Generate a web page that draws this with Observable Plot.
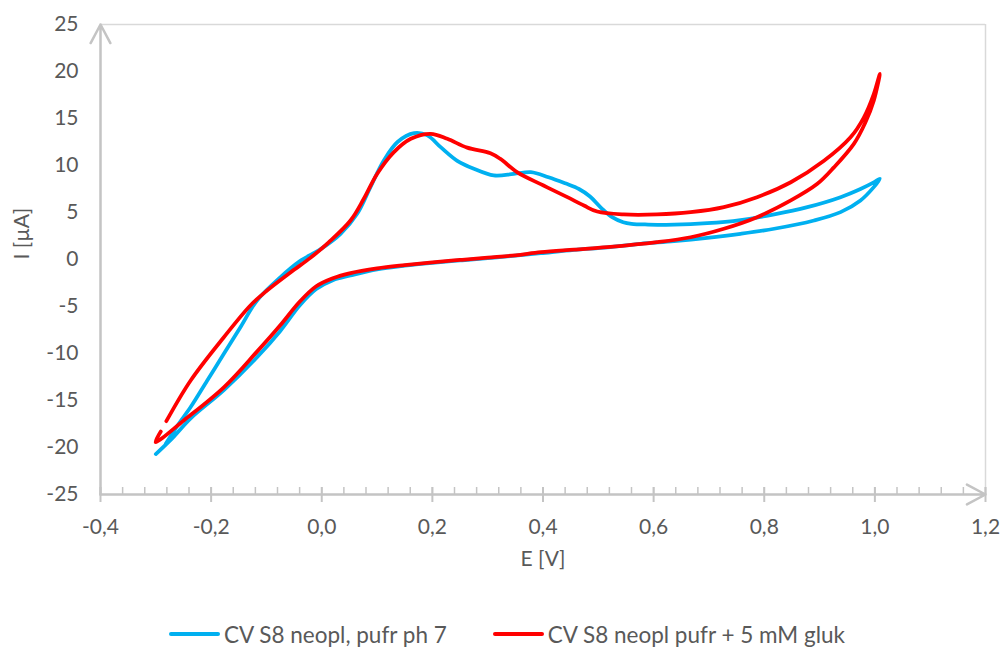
<!DOCTYPE html>
<html>
<head>
<meta charset="utf-8">
<script src="https://cdn.jsdelivr.net/npm/d3@7"></script>
<script src="https://cdn.jsdelivr.net/npm/@observablehq/plot@0.6"></script>
<style>
  body { margin: 0; background: #fff; font-family: Lato, "Open Sans", sans-serif; }
  #chart svg { display: block; }
  .legend { display: flex; justify-content: center; align-items: center; gap: 46px;
            padding-top: 20px; padding-left: 10px; height: 28px; font-size: 22.5px; color: #595959; }
  .legend .item { display: flex; align-items: center; gap: 4px; }
  .legend .swatch { width: 51px; height: 4px; border-radius: 2px; }
</style>
</head>
<body>
<div id="chart"></div>
<script>
// Cyclic voltammograms of electrode S8: buffer only vs. buffer with 5 mM glucose
const seriesNames = ["CV S8 neopl, pufr ph 7", "CV S8 neopl pufr + 5 mM gluk"];
const seriesColors = ["#00b0f0", "#ff0000"];

// Buffer pH 7 — forward sweep to the vertex, then the return sweep
const blueE = [-0.300, -0.270, -0.237, -0.177, -0.117, -0.075, -0.040, -0.010, 0.020, 0.052, 0.100, 0.150, 0.200, 0.250, 0.300, 0.350, 0.396, 0.456, 0.516, 0.576, 0.637, 0.697, 0.757, 0.818, 0.890, 0.938, 0.974, 0.998, 1.009,
               0.998, 0.974, 0.938, 0.878, 0.818, 0.757, 0.697, 0.637, 0.590, 0.560, 0.545, 0.525, 0.505, 0.485, 0.465, 0.440, 0.410, 0.378, 0.347, 0.311, 0.275, 0.245, 0.215, 0.191, 0.167, 0.137, 0.112, 0.088, 0.064, 0.034, -0.002, -0.040, -0.075, -0.117, -0.147, -0.177, -0.207, -0.237, -0.260, -0.282];
const blueI = [-20.7, -19.0, -16.9, -13.9, -10.4, -7.6, -4.9, -3.15, -2.2, -1.7, -1.05, -0.65, -0.35, -0.1, 0.15, 0.4, 0.67, 1.03, 1.3, 1.67, 1.95, 2.3, 2.73, 3.27, 4.15, 5.04, 6.28, 7.7, 8.58,
               8.2, 7.5, 6.63, 5.57, 4.8, 4.2, 3.86, 3.7, 3.72, 3.8, 3.97, 4.5, 5.5, 6.7, 7.5, 8.1, 8.75, 9.3, 9.1, 8.94, 9.65, 10.5, 11.95, 13.2, 13.44, 12.5, 10.5, 7.7, 4.86, 2.73, 1.1, -0.2, -1.9, -4.36, -7.2, -10.03, -12.87, -15.7, -17.6, -19.6];

// Buffer + 5 mM glucose
const redE = [-0.291, -0.3005, -0.249, -0.177, -0.117, -0.075, -0.040, -0.010, 0.020, 0.052, 0.100, 0.150, 0.200, 0.250, 0.300, 0.350, 0.396, 0.456, 0.516, 0.606, 0.667, 0.727, 0.787, 0.848, 0.896, 0.926, 0.962, 0.983, 0.998, 1.009,
              0.998, 0.980, 0.956, 0.908, 0.848, 0.787, 0.727, 0.667, 0.606, 0.546, 0.498, 0.474, 0.444, 0.401, 0.353, 0.323, 0.305, 0.263, 0.227, 0.197, 0.161, 0.130, 0.100, 0.076, 0.052, 0.012, -0.020, -0.056, -0.099, -0.129, -0.177, -0.237, -0.281];
const redI = [-18.3, -19.43, -17.1, -13.6, -9.8, -7.0, -4.5, -2.85, -2.0, -1.45, -0.95, -0.6, -0.3, -0.05, 0.2, 0.45, 0.78, 1.05, 1.31, 1.84, 2.37, 3.27, 4.5, 6.28, 8.05, 9.8, 12.3, 14.6, 16.9, 19.76,
              17.6, 15.1, 13.0, 10.5, 8.22, 6.63, 5.57, 5.03, 4.79, 4.79, 5.1, 5.74, 6.63, 7.87, 9.3, 10.7, 11.3, 11.9, 12.84, 13.37, 12.84, 11.4, 9.1, 6.46, 4.15, 1.8, 0.2, -1.35, -3.3, -4.89, -8.27, -12.87, -17.2];

// Axes
const xDomain = [-0.4, 1.2];
const yDomain = [-25, 25];
const xTicks = [-0.4, -0.2, 0.0, 0.2, 0.4, 0.6, 0.8, 1.0, 1.2];
const xMinorTicks = d3.range(0, 41).map(i => +(-0.4 + i * 0.04).toFixed(2));
const yTicks = [-25, -20, -15, -10, -5, 0, 5, 10, 15, 20, 25];
const xTitle = "E [V]";
const yTitle = "I [µA]";

const axisGray = "#c4c4c4";
const borderGray = "#d9d9d9";
const textGray = "#595959";

const locale = d3.formatLocale({decimal: ",", thousands: " ", grouping: [3], currency: ["", ""], minus: "-"});
const fmtE = locale.format(".1f");
const fmtI = locale.format("d");

const rows = [
  ...blueE.map((E, i) => ({series: seriesNames[0], E, I: blueI[i]})),
  ...redE.map((E, i) => ({series: seriesNames[1], E, I: redI[i]}))
];

const frameEdges = [{x1: xDomain[0], y1: yDomain[0], x2: xDomain[0], y2: yDomain[1]},
                    {x1: xDomain[0], y1: yDomain[0], x2: xDomain[1], y2: yDomain[0]}];

const chart = Plot.plot({
  width: 1004,
  height: 600,
  marginLeft: 100,
  marginRight: 19,
  marginTop: 24,
  marginBottom: 106,
  style: {fontFamily: "Lato, 'Open Sans', sans-serif", fontSize: "21px", color: textGray, background: "#fff"},
  x: {domain: xDomain, label: null},
  y: {domain: yDomain, label: null},
  color: {domain: seriesNames, range: seriesColors},
  marks: [
    Plot.ruleY([yDomain[1]], {stroke: borderGray, strokeWidth: 1.5}),
    Plot.ruleX([xDomain[1]], {stroke: borderGray, strokeWidth: 1.5}),
    Plot.axisY(yTicks, {tickSize: 0, tickPadding: 22, tickFormat: fmtI, fill: textGray, label: null}),
    Plot.axisX(xTicks, {tickSize: 0, tickPadding: 25, tickFormat: fmtE, fill: textGray, label: null}),
    Plot.axisX(xMinorTicks, {tickSize: 7, dy: -7, fill: "none", stroke: axisGray, strokeWidth: 1.5, label: null}),
    Plot.axisX(xTicks, {tickSize: 15, dy: -7, fill: "none", stroke: axisGray, strokeWidth: 2, label: null}),
    Plot.arrow(frameEdges, {x1: "x1", y1: "y1", x2: "x2", y2: "y2", stroke: axisGray, strokeWidth: 2.5, headLength: 12.6, headAngle: 56}),
    Plot.line(rows, {x: "E", y: "I", z: "series", stroke: "series", strokeWidth: 3.75, curve: "catmull-rom", strokeLinecap: "round", strokeLinejoin: "round"}),
    Plot.text([xTitle], {frameAnchor: "bottom", dy: 71, fill: textGray, fontSize: 21}),
    Plot.text([yTitle], {frameAnchor: "left", dx: -78, rotate: -90, fill: textGray, fontSize: 21})
  ]
});

document.getElementById("chart").appendChild(chart);

// Legend below the plot
const legend = document.createElement("div");
legend.className = "legend";
seriesNames.forEach((name, i) => {
  const item = document.createElement("div");
  item.className = "item";
  const sw = document.createElement("span");
  sw.className = "swatch";
  sw.style.background = seriesColors[i];
  const label = document.createElement("span");
  label.textContent = name;
  item.append(sw, label);
  legend.appendChild(item);
});
document.body.appendChild(legend);
</script>
</body>
</html>
